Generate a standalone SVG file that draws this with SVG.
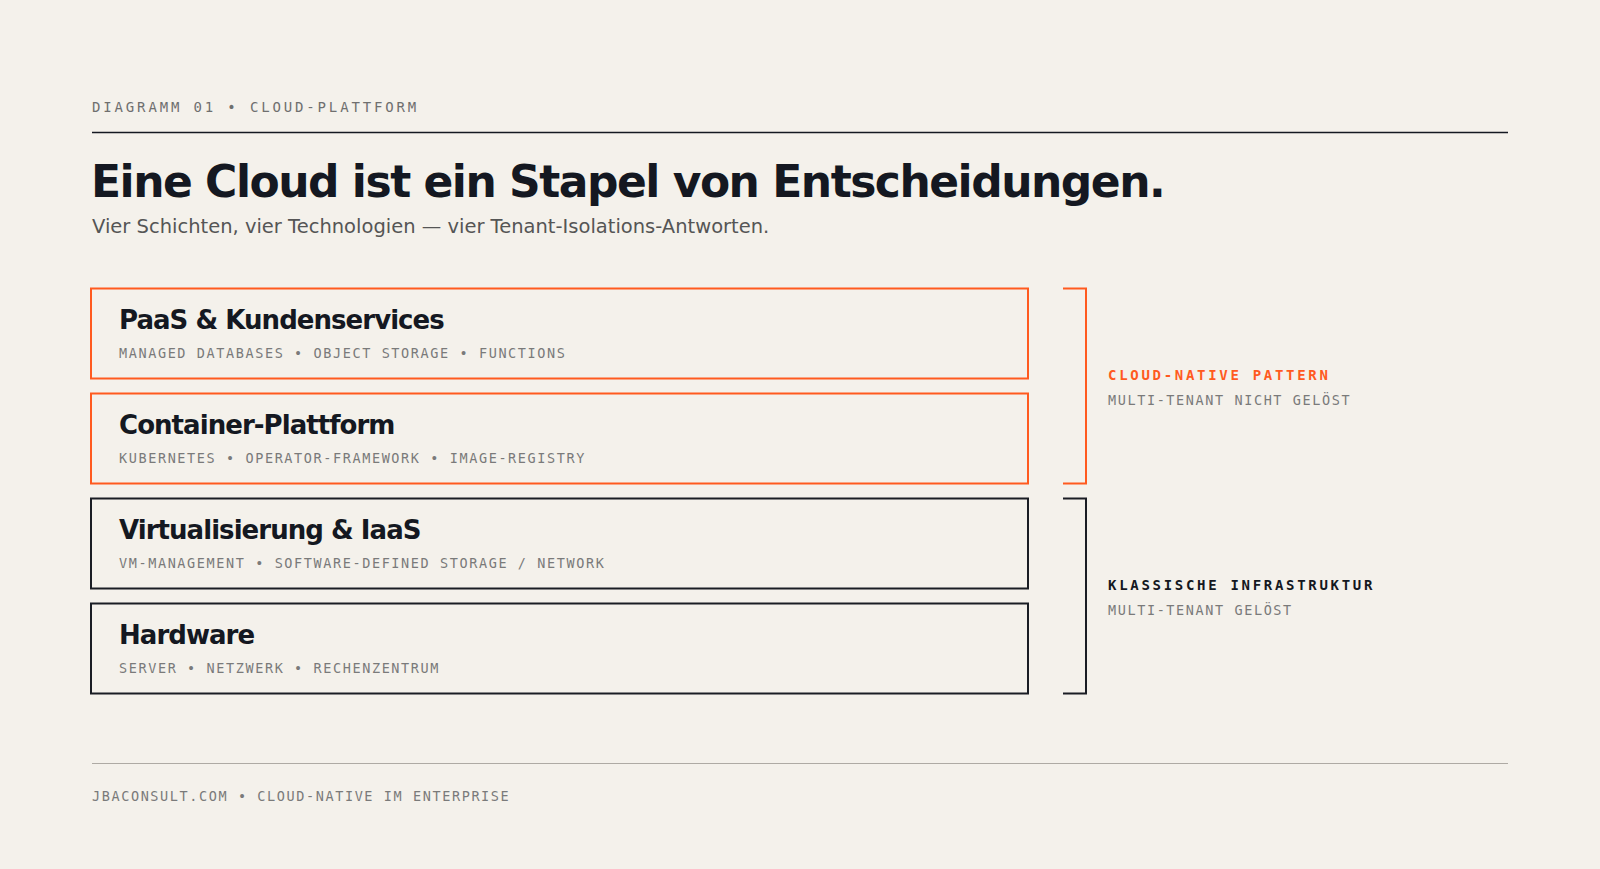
<svg xmlns="http://www.w3.org/2000/svg" width="1600" height="869" viewBox="0 0 1600 869">
  <style>
    .mono { font-family: "DejaVu Sans Mono", "Liberation Mono", monospace; font-size: 13.5px; }
    .eyebrow { fill: #6f6f6f; font-size: 14px; letter-spacing: 2.85px; }
    .sub { fill: #7a7a7a; letter-spacing: 1.6px; }
    .sans { font-family: "DejaVu Sans", "Liberation Sans", sans-serif; }
    .title { font-size: 44px; font-weight: bold; fill: #141821; letter-spacing: -1.5px; }
    .lede { font-size: 19.5px; fill: #555555; }
    .ntitle { font-size: 26px; font-weight: bold; fill: #141821; letter-spacing: -0.95px; }
    .box-accent { fill: none; stroke: #ff5a1f; stroke-width: 2; }
    .box-dark { fill: none; stroke: #1a1d24; stroke-width: 2; }
    .brk-accent { fill: none; stroke: #ff5a1f; stroke-width: 2; }
    .brk-dark { fill: none; stroke: #1a1d24; stroke-width: 2; }
    .lbl-accent { fill: #ff5a1f; font-weight: bold; font-size: 14px; letter-spacing: 2.7px; }
    .lbl-dark { fill: #141821; font-weight: bold; font-size: 14px; letter-spacing: 2.7px; }
  </style>
  <rect x="0" y="0" width="1600" height="869" fill="#f4f1eb"/>

  <g id="header">
    <text class="mono eyebrow" x="92" y="112">DIAGRAMM 01 • CLOUD-PLATTFORM</text>
    <line x1="92" y1="132.5" x2="1508" y2="132.5" stroke="#141821" stroke-width="1.6"/>
    <text class="sans title" x="91" y="197">Eine Cloud ist ein Stapel von Entscheidungen.</text>
    <text class="sans lede" x="92" y="233">Vier Schichten, vier Technologien — vier Tenant-Isolations-Antworten.</text>
  </g>

  <g id="layer-paas">
    <rect class="box-accent" x="91" y="288.5" width="937" height="90"/>
    <text class="sans ntitle" x="119" y="329">PaaS &amp; Kundenservices</text>
    <text class="mono sub" x="119" y="357.5">MANAGED DATABASES • OBJECT STORAGE • FUNCTIONS</text>
  </g>

  <g id="layer-container">
    <rect class="box-accent" x="91" y="393.5" width="937" height="90"/>
    <text class="sans ntitle" x="119" y="434">Container-Plattform</text>
    <text class="mono sub" x="119" y="462.5">KUBERNETES • OPERATOR-FRAMEWORK • IMAGE-REGISTRY</text>
  </g>

  <g id="layer-iaas">
    <rect class="box-dark" x="91" y="498.5" width="937" height="90"/>
    <text class="sans ntitle" x="119" y="539">Virtualisierung &amp; IaaS</text>
    <text class="mono sub" x="119" y="567.5">VM-MANAGEMENT • SOFTWARE-DEFINED STORAGE / NETWORK</text>
  </g>

  <g id="layer-hardware">
    <rect class="box-dark" x="91" y="603.5" width="937" height="90"/>
    <text class="sans ntitle" x="119" y="644">Hardware</text>
    <text class="mono sub" x="119" y="672.5">SERVER • NETZWERK • RECHENZENTRUM</text>
  </g>

  <g id="connectors">
    <path class="brk-accent" d="M1063 288.5 H1086 V483.5 H1063"/>
    <path class="brk-dark" d="M1063 498.5 H1086 V693.5 H1063"/>
  </g>

  <g id="group-cloud-native">
    <text class="mono lbl-accent" x="1108" y="380">CLOUD-NATIVE PATTERN</text>
    <text class="mono sub" x="1108" y="404.5">MULTI-TENANT NICHT GELÖST</text>
  </g>

  <g id="group-classic">
    <text class="mono lbl-dark" x="1108" y="590">KLASSISCHE INFRASTRUKTUR</text>
    <text class="mono sub" x="1108" y="614.5">MULTI-TENANT GELÖST</text>
  </g>

  <g id="footer">
    <line x1="92" y1="763.5" x2="1508" y2="763.5" stroke="#aeaaa4" stroke-width="1"/>
    <text class="mono sub" x="92" y="800.5">JBACONSULT.COM • CLOUD-NATIVE IM ENTERPRISE</text>
  </g>
</svg>
